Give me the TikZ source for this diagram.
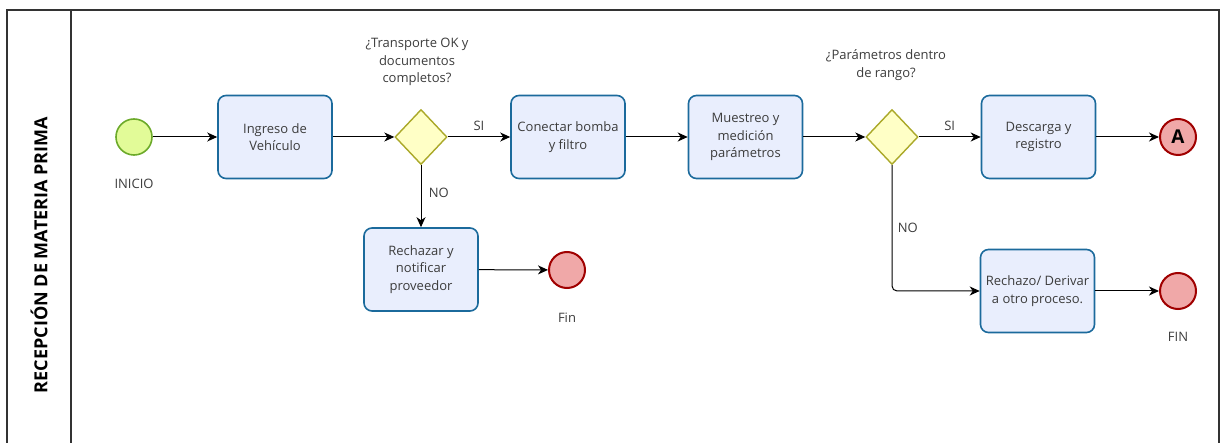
\documentclass[tikz,border=0pt]{standalone}
\usepackage{fontspec}
\setmainfont{Open Sans}
\usetikzlibrary{arrows.meta,shapes.geometric}

\definecolor{taskfill}{RGB}{233,238,253}
\definecolor{taskline}{RGB}{27,106,156}
\definecolor{startfill}{RGB}{226,251,152}
\definecolor{startline}{RGB}{108,170,42}
\definecolor{endfill}{RGB}{240,168,168}
\definecolor{endline}{RGB}{160,0,0}
\definecolor{gatefill}{RGB}{255,255,198}
\definecolor{gateline}{RGB}{170,168,40}
\definecolor{txt}{RGB}{60,60,60}

\begin{document}
\begin{tikzpicture}[x=1pt,y=-1pt,
    task/.style={rectangle, rounded corners=8pt, draw=taskline, fill=taskfill, line width=1.6pt,
        minimum width=114pt, minimum height=83pt, align=center, text=txt,
        font=\fontsize{13}{17.5}\selectfont},
    startev/.style={circle, draw=startline, fill=startfill, line width=1.6pt, minimum size=36pt, inner sep=0pt},
    endev/.style={circle, draw=endline, fill=endfill, line width=2pt, minimum size=36pt, inner sep=0pt},
    gate/.style={diamond, draw=gateline, fill=gatefill, line width=1.4pt, minimum width=52pt, minimum height=55pt, inner sep=0pt},
    lbl/.style={text=txt, align=center, font=\fontsize{13}{17.5}\selectfont},
    flow/.style={line width=1pt, -{Stealth[length=10pt, width=9pt, inset=3pt]}}]

    \useasboundingbox (0,0) rectangle (1220,443);

    % Pool and lane
    \draw[line width=1.2pt, black!80] (7,445) -- (7,10) -- (1219,10) -- (1219,445);
    \draw[line width=1.2pt, black!80] (71,10) -- (71,445);
    \node[rotate=90, font=\fontsize{18}{20}\selectfont\bfseries] (lane) at (39,255) {RECEPCIÓN DE MATERIA PRIMA};

    % Events
    \node[startev] (inicio) at (134,137) {};
    \node[lbl, below=20pt] (inicioLbl) at (inicio.south) {INICIO};
    \node[endev] (fin1) at (567,270) {};
    \node[lbl, below=20pt] (fin1Lbl) at (fin1.south) {Fin};
    \node[endev, font=\fontsize{19}{19}\selectfont\bfseries] (finA) at (1178,137) {A};
    \node[endev] (fin2) at (1178,291) {};
    \node[lbl, below=19pt] (fin2Lbl) at (fin2.south) {FIN};

    % Tasks
    \node[task] (ingreso) at (275,137) {Ingreso de\\Vehículo};
    \node[task] (conectar) at (568,137) {Conectar bomba\\y filtro};
    \node[task] (muestreo) at (745.5,137) {Muestreo y\\medición\\parámetros};
    \node[task] (descarga) at (1038.5,137) {Descarga y\\registro};
    \node[task] (rechazar) at (421,269.5) {Rechazar y\\notificar\\proveedor};
    \node[task] (derivar) at (1037.5,291) {Rechazo/ Derivar\\a otro proceso.};

    % Gateways
    \node[gate] (gate1) at (421,137) {};
    \node[lbl] (gate1Lbl) at (417,62) {¿Transporte OK y\\documentos\\completos?};
    \node[gate] (gate2) at (892,137) {};
    \node[lbl] (gate2Lbl) at (886,65) {¿Parámetros dentro\\de rango?};

    % Sequence flows
    \draw[flow] (inicio) -- (ingreso);
    \draw[flow] (ingreso) -- (gate1);
    \draw[flow] (gate1) -- node[lbl, above=3pt] (si1) {SI} (conectar);
    \draw[flow] (gate1) -- node[lbl, right=4pt, pos=0.45] (no1) {NO} (rechazar);
    \draw[flow] (rechazar) -- (fin1);
    \draw[flow] (conectar) -- (muestreo);
    \draw[flow] (muestreo) -- (gate2);
    \draw[flow] (gate2) -- node[lbl, above=3pt] (si2) {SI} (descarga);
    \draw[flow] (descarga) -- (finA);
    \draw[flow, rounded corners=5pt] (gate2.south) |- node[lbl, pos=0.25, right=2pt] (no2) {NO} (derivar.west);
    \draw[flow] (derivar) -- (fin2);
\end{tikzpicture}
\end{document}
